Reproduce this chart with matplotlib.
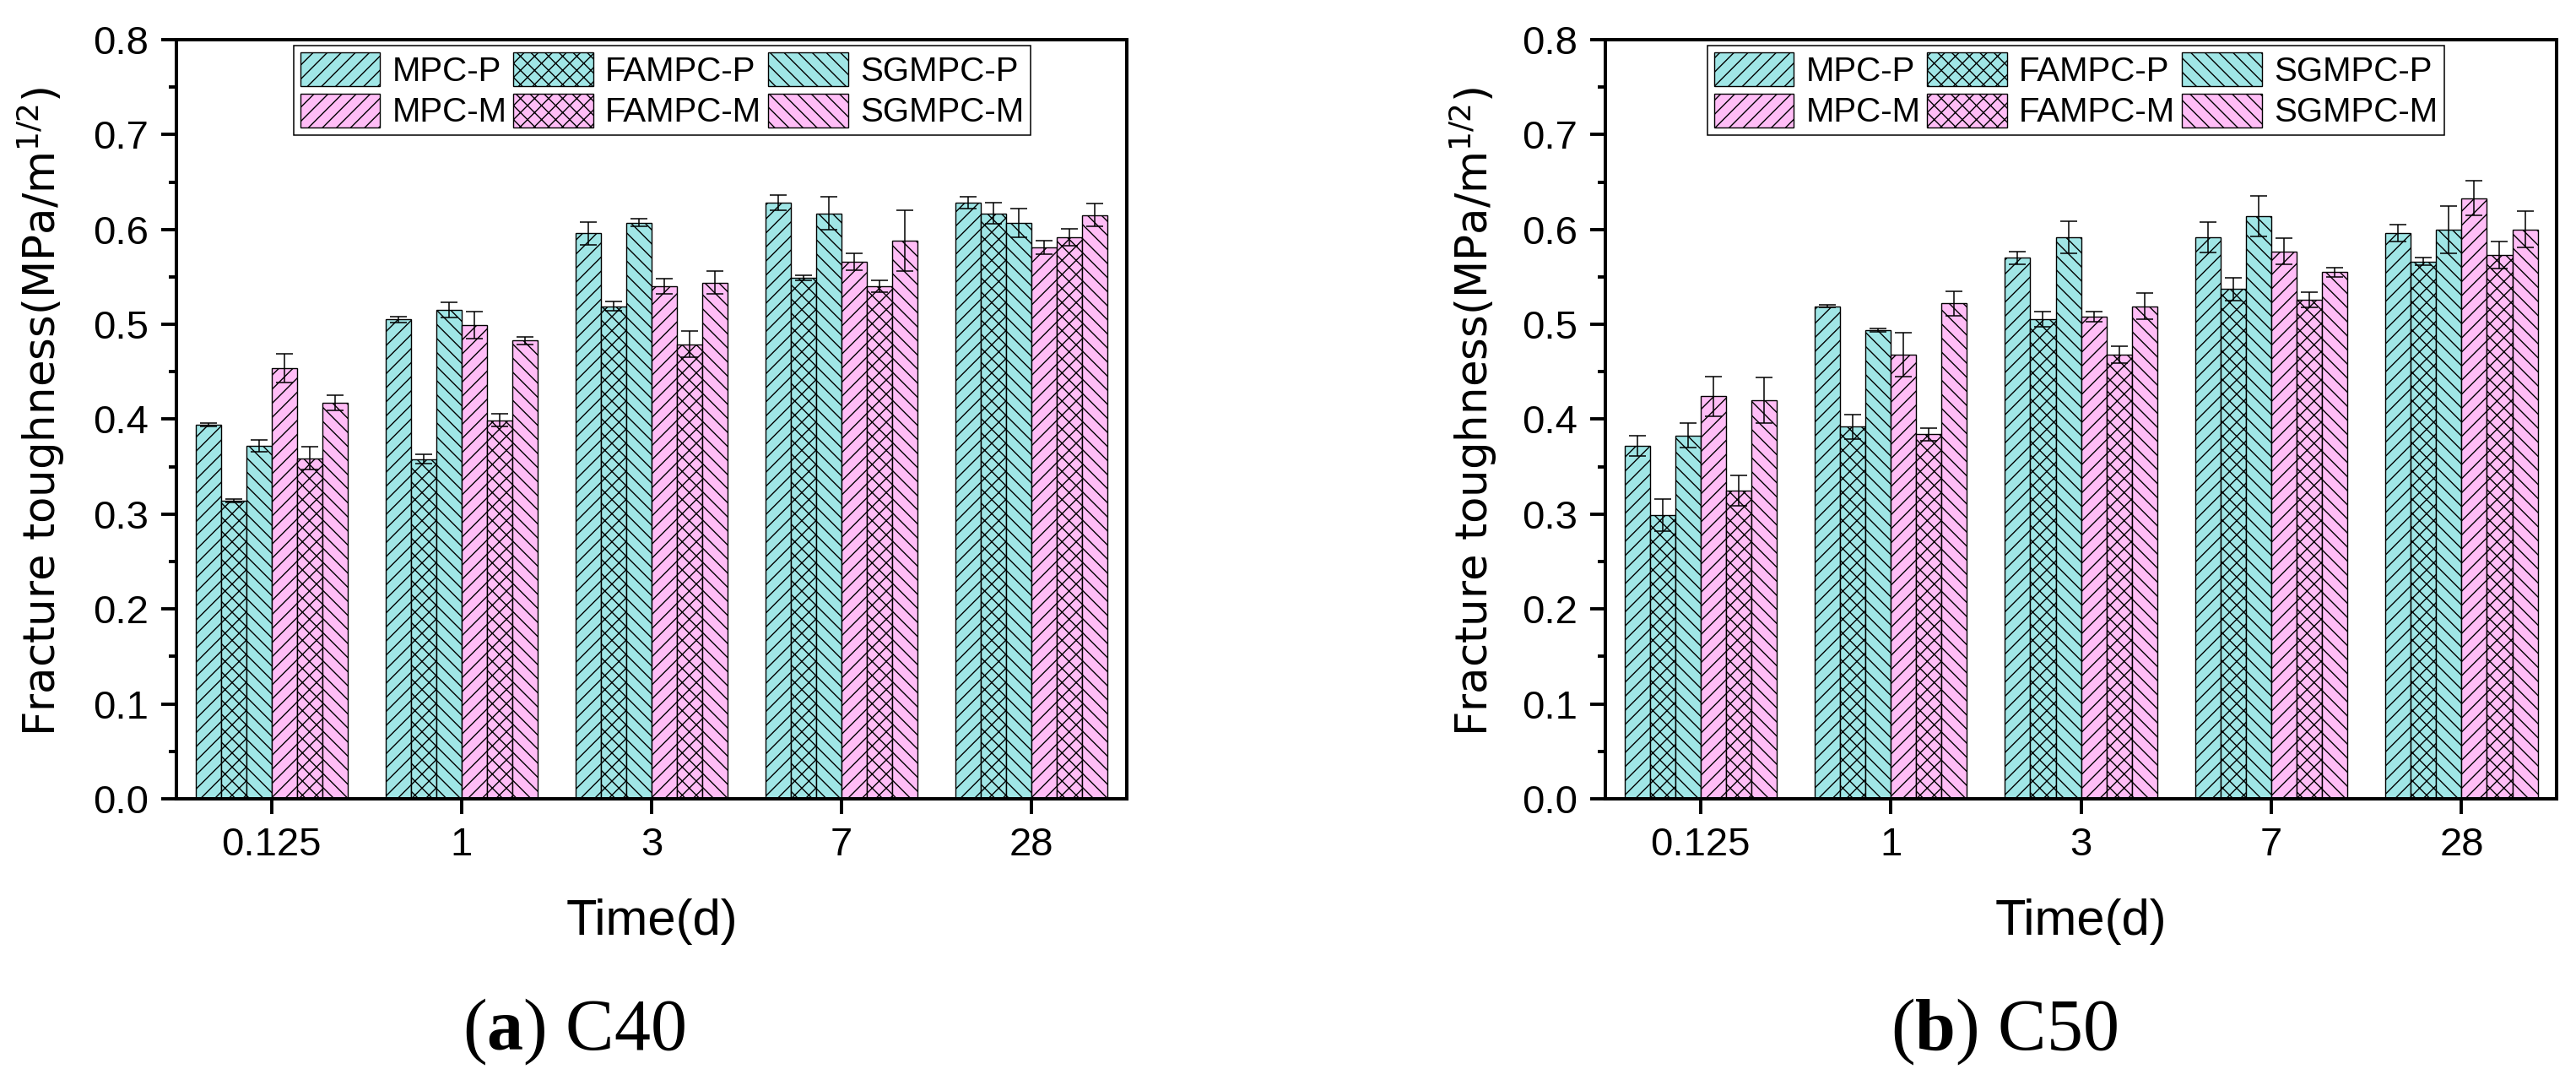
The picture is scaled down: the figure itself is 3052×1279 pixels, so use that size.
import numpy as np
import matplotlib
matplotlib.use("Agg")
from matplotlib import pyplot as plt
from matplotlib.ticker import MultipleLocator

# categories and series
times = ["0.125", "1", "3", "7", "28"]
series = ["MPC-P", "FAMPC-P", "SGMPC-P", "MPC-M", "FAMPC-M", "SGMPC-M"]

# (a) C40 - mean values and error
c40_mpc_p = [0.394, 0.505, 0.596, 0.628, 0.628]
c40_mpc_p_err = [0.002, 0.003, 0.012, 0.008, 0.006]
c40_fampc_p = [0.314, 0.358, 0.519, 0.549, 0.617]
c40_fampc_p_err = [0.002, 0.005, 0.005, 0.003, 0.011]
c40_sgmpc_p = [0.372, 0.515, 0.607, 0.617, 0.607]
c40_sgmpc_p_err = [0.006, 0.008, 0.004, 0.017, 0.015]
c40_mpc_m = [0.454, 0.499, 0.540, 0.566, 0.581]
c40_mpc_m_err = [0.015, 0.014, 0.008, 0.009, 0.007]
c40_fampc_m = [0.359, 0.399, 0.479, 0.540, 0.592]
c40_fampc_m_err = [0.012, 0.0065, 0.014, 0.0065, 0.009]
c40_sgmpc_m = [0.417, 0.483, 0.544, 0.588, 0.615]
c40_sgmpc_m_err = [0.008, 0.004, 0.012, 0.032, 0.012]

# (b) C50
c50_mpc_p = [0.372, 0.519, 0.570, 0.592, 0.596]
c50_mpc_p_err = [0.011, 0.0015, 0.0065, 0.016, 0.009]
c50_fampc_p = [0.299, 0.392, 0.505, 0.537, 0.566]
c50_fampc_p_err = [0.017, 0.013, 0.008, 0.012, 0.004]
c50_sgmpc_p = [0.383, 0.494, 0.592, 0.614, 0.600]
c50_sgmpc_p_err = [0.013, 0.002, 0.017, 0.021, 0.025]
c50_mpc_m = [0.424, 0.468, 0.508, 0.577, 0.633]
c50_mpc_m_err = [0.021, 0.023, 0.005, 0.014, 0.018]
c50_fampc_m = [0.325, 0.384, 0.468, 0.526, 0.573]
c50_fampc_m_err = [0.016, 0.0065, 0.009, 0.008, 0.014]
c50_sgmpc_m = [0.420, 0.522, 0.519, 0.555, 0.600]
c50_sgmpc_m_err = [0.024, 0.013, 0.014, 0.005, 0.019]

c40 = [c40_mpc_p, c40_fampc_p, c40_sgmpc_p, c40_mpc_m, c40_fampc_m, c40_sgmpc_m]
c40_err = [c40_mpc_p_err, c40_fampc_p_err, c40_sgmpc_p_err,
           c40_mpc_m_err, c40_fampc_m_err, c40_sgmpc_m_err]
c50 = [c50_mpc_p, c50_fampc_p, c50_sgmpc_p, c50_mpc_m, c50_fampc_m, c50_sgmpc_m]
c50_err = [c50_mpc_p_err, c50_fampc_p_err, c50_sgmpc_p_err,
           c50_mpc_m_err, c50_fampc_m_err, c50_sgmpc_m_err]

CYAN = "#A0E6E6"
PINK = "#FFBDF6"
colors = [CYAN, CYAN, CYAN, PINK, PINK, PINK]
hatches = ["//", "xx", "\\\\", "//", "xx", "\\\\"]

plt.rcParams["font.family"] = ["Liberation Sans", "DejaVu Sans"]
plt.rcParams["mathtext.fontset"] = "custom"
plt.rcParams["mathtext.rm"] = "Liberation Serif"
plt.rcParams["mathtext.bf"] = "Liberation Serif:bold"
plt.rcParams["hatch.linewidth"] = 1.0


def draw_panel(ax, values, errors):
    x = np.arange(len(times))
    width = 0.8 / len(series)
    bars = {}
    for i, name in enumerate(series):
        offs = (i - (len(series) - 1) / 2) * width
        bars[name] = ax.bar(x + offs, values[i], width, yerr=errors[i],
                            color=colors[i], edgecolor="black", linewidth=1.0,
                            hatch=hatches[i], label=name,
                            error_kw=dict(ecolor="black", elinewidth=1.1,
                                          capsize=7.5, capthick=1.1))

    ax.set_xlim(-0.5, 4.5)
    ax.set_ylim(0, 0.8)
    ax.set_xticks(x)
    ax.set_xticklabels(times)
    ax.yaxis.set_major_locator(MultipleLocator(0.1))
    ax.yaxis.set_minor_locator(MultipleLocator(0.05))
    ax.yaxis.set_major_formatter(plt.FormatStrFormatter("%.1f"))
    ax.tick_params(axis="both", which="major", direction="out", length=13,
                   width=2.8, labelsize=34, pad=11)
    ax.tick_params(axis="y", which="minor", direction="out", length=6.5, width=2.8)
    ax.tick_params(top=False, right=False)
    for sp in ax.spines.values():
        sp.set_linewidth(2.9)

    ax.set_xlabel("Time(d)", fontsize=43, va="baseline")
    ax.xaxis.set_label_coords(0.5, -0.179)
    ax.set_ylabel(r"Fracture toughness(MPa/m$^{\mathregular{1/2}}$)",
                  family="DejaVu Sans", fontsize=37, va="center")

    order = ["MPC-P", "MPC-M", "FAMPC-P", "FAMPC-M", "SGMPC-P", "SGMPC-M"]
    return [bars[k] for k in order], order


fig = plt.figure(figsize=(30.52, 12.79), dpi=100)
ax1 = fig.add_axes([0.0685, 0.2604, 0.3689, 0.7029])
ax2 = fig.add_axes([0.6232, 0.2604, 0.3693, 0.7029])

for ax, vals, errs, lx, lab in [(ax1, c40, c40_err, 0.123, -0.143),
                                 (ax2, c50, c50_err, 0.107, -0.139)]:
    handles, labels = draw_panel(ax, vals, errs)
    ax.yaxis.set_label_coords(lab, 0.51)
    leg = ax.legend(handles, labels, ncol=3, loc="upper left",
                    bbox_to_anchor=(lx, 0.992), fontsize=29, frameon=True,
                    fancybox=False, framealpha=1, edgecolor="black",
                    handlelength=2.35, handleheight=1.15, handletextpad=0.35,
                    columnspacing=0.2, labelspacing=0.17, borderpad=0.2,
                    borderaxespad=0)
    leg.get_frame().set_linewidth(1.1)

fig.text(0.2228, 0.028, r"($\mathbf{a}$) C40", family="Liberation Serif",
         fontsize=62, ha="center", va="baseline")
fig.text(0.778, 0.028, r"($\mathbf{b}$) C50", family="Liberation Serif",
         fontsize=62, ha="center", va="baseline")

fig.savefig("out.png", dpi=100)
